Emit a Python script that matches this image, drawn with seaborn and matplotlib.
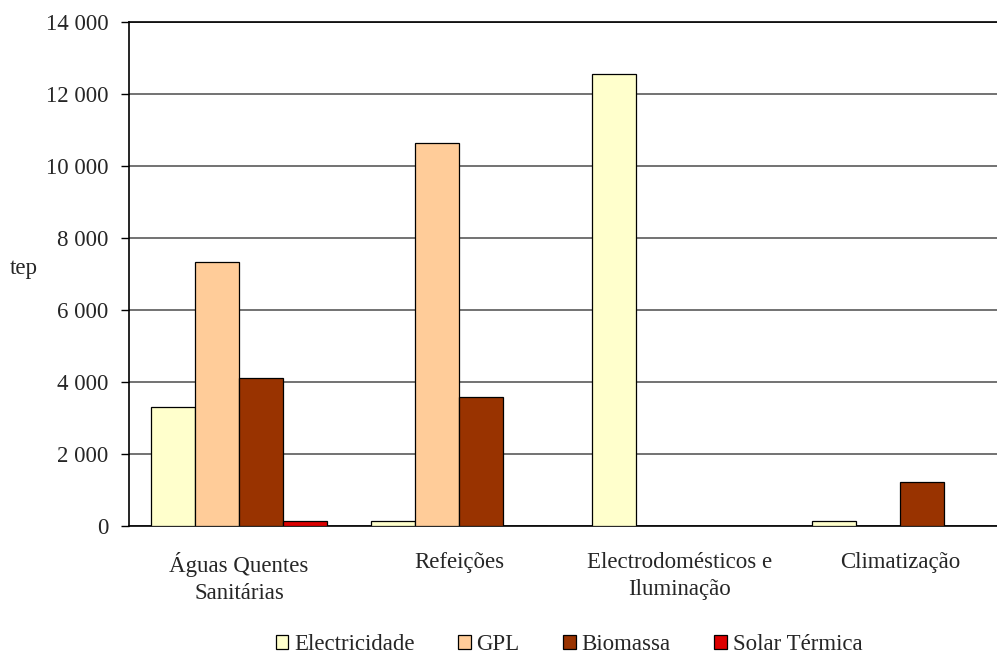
import matplotlib
matplotlib.use("Agg")
import matplotlib.pyplot as plt
import seaborn as sns
import pandas as pd
import numpy as np

# usos finais e fontes de energia (tep)
categorias = ["Águas Quentes\nSanitárias", "Refeições", "Electrodomésticos e\nIluminação", "Climatização"]
fontes = ["Electricidade", "GPL", "Biomassa", "Solar Térmica"]
electricidade = [3300, 130, 12550, 140]
gpl = [7330, 10650, 0, 0]
biomassa = [4100, 3570, 0, 1230]
solar_termica = [130, 0, 0, 0]
cores = ["#FFFFCC", "#FFCC99", "#993300", "#DD0000"]
yticks = [0, 2000, 4000, 6000, 8000, 10000, 12000, 14000]
ytick_labels = ["0", "2 000", "4 000", "6 000", "8 000", "10 000", "12 000", "14 000"]

series = [electricidade, gpl, biomassa, solar_termica]
rows = []
for fonte, valores in zip(fontes, series):
    for cat, v in zip(categorias, valores):
        rows.append({"categoria": cat, "fonte": fonte, "tep": v})
df = pd.DataFrame(rows)

sns.set_style("white")
plt.rcParams["font.family"] = ["Liberation Serif", "DejaVu Serif"]

fig = plt.figure(figsize=(9.97, 6.55), dpi=100)
ax = fig.add_axes([129 / 997, 1 - 526 / 655, 881 / 997, 504 / 655])

sns.barplot(data=df, x="categoria", y="tep", hue="fonte", order=categorias,
            hue_order=fontes, palette=cores, saturation=1, width=0.8,
            edgecolor="black", linewidth=0.9, errorbar=None, ax=ax, zorder=3)

ax.set_xlim(-0.5, 3.5)
ax.set_ylim(0, 14000)
ax.set_yticks(yticks)
ax.set_yticklabels(ytick_labels, fontsize=16.5)
ax.yaxis.grid(True, color="#5a5a5a", linewidth=1.2, zorder=0)
ax.set_axisbelow(True)

ax.set_xticks(range(len(categorias)))
ax.set_xticklabels(categorias, fontsize=16.5, linespacing=1.35)
ax.set_xticks(np.arange(-0.5, 4, 1), minor=True)
ax.tick_params(axis="x", which="major", length=0, pad=19)
ax.tick_params(axis="x", which="minor", length=6, width=1, color="black", direction="out")
ax.tick_params(axis="y", length=6, width=1, color="black", direction="out", pad=9, left=True)

for side in ["left", "bottom", "top"]:
    ax.spines[side].set_color("black")
    ax.spines[side].set_linewidth(1.2)
ax.spines["right"].set_visible(False)

ax.set_xlabel("")
ax.set_ylabel("tep", fontsize=16.5, rotation=0, labelpad=0)
ax.yaxis.set_label_coords(-0.119, 0.49)

handles, labels = ax.get_legend_handles_labels()
ax.get_legend().remove()
fig.legend(handles, labels, loc="center", bbox_to_anchor=(569 / 997, 1 - 645 / 655),
           ncol=4, frameon=False, fontsize=16.5, handlelength=0.55, handleheight=0.55,
           handletextpad=0.25, columnspacing=1.9, borderaxespad=0)

fig.savefig("out.png", dpi=100)
